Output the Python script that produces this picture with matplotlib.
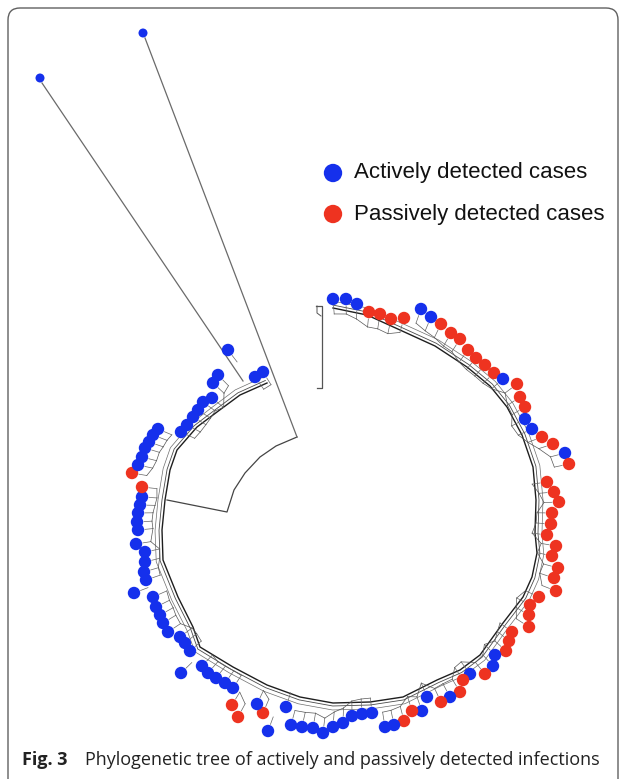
import numpy as np
import matplotlib.pyplot as plt
from matplotlib.patches import FancyBboxPatch

# ==== tip positions (pixels, y down) ====
tip_x = [333, 346, 357, 369, 380, 391, 404, 421, 431, 441, 451, 460, 468, 476, 485, 494,
         503, 517, 520, 525, 525, 532, 542, 553, 565, 569, 547, 554, 559, 552, 551, 547,
         556, 552, 558, 554, 556, 539, 530, 529, 529, 512, 509, 506, 495, 493, 485, 470,
         463, 460, 450, 441, 427, 422, 412, 404, 394, 385, 372, 362, 352, 343, 333, 323,
         313, 302, 291, 286, 268, 263, 257, 238, 232, 233, 225, 216, 208, 202, 181, 190,
         185, 180, 168, 163, 160, 156, 153, 134, 146, 144, 145, 145, 136, 138, 137, 138,
         140, 142, 142, 132, 138, 142, 145, 149, 153, 158, 181, 187, 193, 198, 203, 212,
         213, 218, 228, 255, 263]
tip_y = [299, 299, 304, 312, 314, 319, 318, 309, 317, 324, 333, 339, 350, 358, 365, 373,
         379, 384, 397, 407, 419, 429, 437, 444, 453, 464, 482, 492, 502, 513, 524, 535,
         546, 556, 568, 578, 591, 597, 605, 615, 627, 632, 641, 651, 655, 666, 674, 674,
         680, 692, 697, 702, 697, 711, 711, 721, 725, 727, 713, 714, 716, 723, 727, 733,
         728, 727, 725, 707, 731, 713, 704, 717, 705, 688, 683, 678, 673, 666, 673, 651,
         643, 637, 632, 623, 615, 607, 597, 593, 580, 572, 562, 552, 544, 530, 522, 513,
         505, 497, 487, 473, 465, 457, 448, 442, 435, 429, 432, 425, 417, 410, 402, 398,
         383, 375, 350, 377, 372]
# A = actively detected, P = passively detected
tip_case = ("AAA" "PPPP" "AA" "PPPPPPP" "A" "PPP" "AA" "PP" "A" + "P" * 19 +
            "AA" "P" "A" "PP" "A" "P" "AA" "PP" + "A" * 13 + "P" "A" "PP" + "A" * 25 +
            "PP" + "A" * 17)

# two long outlier branches (tip, attachment node)
out_tips = [(143, 33), (40, 78)]
out_nodes = [(297, 437), (243, 381)]

# innermost line of the circular tree
back_x = [333, 367, 400, 435, 467, 490, 507, 522, 533, 536, 535, 537, 532, 523, 503, 480,
          460, 437, 403, 370, 333, 300, 267, 233, 200, 193, 178, 163, 162, 165, 170, 177,
          197, 217, 240, 267]
back_y = [308, 315, 330, 346, 367, 386, 407, 435, 467, 500, 533, 553, 577, 597, 623, 655,
          670, 680, 697, 702, 703, 697, 685, 667, 647, 627, 597, 560, 530, 500, 470, 450,
          427, 412, 395, 383]

# small arc from the root fork down to the main clade
root_x = [297, 276, 260, 245, 234, 227, 167]
root_y = [437, 446, 457, 473, 490, 512, 500]

blue = "#1530ec"
red = "#ee3320"

fig = plt.figure(figsize=(6.24, 7.79), dpi=100)
ax = fig.add_axes([0, 0, 1, 1])
ax.set_xlim(0, 624)
ax.set_ylim(779, 0)
ax.axis("off")

# ==== frame ====
frame = FancyBboxPatch((8, 8), 610, 800, boxstyle="round,pad=0,rounding_size=12",
                       fc="white", ec="#606060", lw=1.0, zorder=0)
ax.add_patch(frame)

cx, cy = 350, 510
tx = np.array(tip_x, float)
ty = np.array(tip_y, float)
d = np.hypot(tx - cx, ty - cy)
ux = (tx - cx) / d
uy = (ty - cy) / d

# ==== tree lines ====
bx = np.array(back_x, float)
by = np.array(back_y, float)
bd = np.hypot(bx - cx, by - cy)
for k, lw, c in [(0, 1.0, "#1e1e1e"), (3, 0.6, "#4a4a4a"), (7, 0.5, "#6e6e6e")]:
    ax.plot(bx + k * (bx - cx) / bd, by + k * (by - cy) / bd, color=c, lw=lw, zorder=2)

# stubs from each tip inward, joined into small brackets with neighbours
in_x = tx - 15 * ux
in_y = ty - 15 * uy
for i in range(len(tx)):
    ax.plot([tx[i] - 7 * ux[i], in_x[i]], [ty[i] - 7 * uy[i], in_y[i]],
            color="#666666", lw=0.5, zorder=2)
    if i + 1 < len(tx) and np.hypot(tx[i + 1] - tx[i], ty[i + 1] - ty[i]) < 16:
        ax.plot([in_x[i], in_x[i + 1]], [in_y[i], in_y[i + 1]],
                color="#555555", lw=0.5, zorder=2)

ax.plot(root_x, root_y, color="#444444", lw=0.9, zorder=2)
for (px, py), (nx, ny) in zip(out_tips, out_nodes):
    ax.plot([px + 2, nx], [py + 5, ny], color="#6a6a6a", lw=0.9, zorder=2)

# bracket near the top
ax.plot([316, 322, 322, 317], [306, 306, 388, 388], color="#555555", lw=0.9, zorder=2)
ax.plot([317, 317, 321], [306, 313, 316], color="#555555", lw=0.7, zorder=2)

# ==== tips ====
cols = [blue if c == "A" else red for c in tip_case]
ax.scatter(tx, ty, s=80, c=cols, edgecolors="none", zorder=3)
ax.scatter([p[0] for p in out_tips], [p[1] for p in out_tips], s=42, c=blue,
           edgecolors="none", zorder=3)

# ==== legend ====
ax.scatter([333], [173], s=175, c=blue, edgecolors="none", zorder=3)
ax.scatter([333], [214], s=175, c=red, edgecolors="none", zorder=3)
ax.text(354, 172, "Actively detected cases", fontsize=16, family="Liberation Sans",
        va="center", ha="left", color="#111111")
ax.text(354, 214, "Passively detected cases", fontsize=16, family="Liberation Sans",
        va="center", ha="left", color="#111111")

# ==== caption ====
ax.text(22, 760, "Fig. 3", fontsize=13, family="Open Sans", fontweight="bold",
        va="center", ha="left", color="#222222")
ax.text(85, 760, "Phylogenetic tree of actively and passively detected infections",
        fontsize=13, family="Open Sans", va="center", ha="left", color="#222222")

fig.savefig("out.png", dpi=100)
